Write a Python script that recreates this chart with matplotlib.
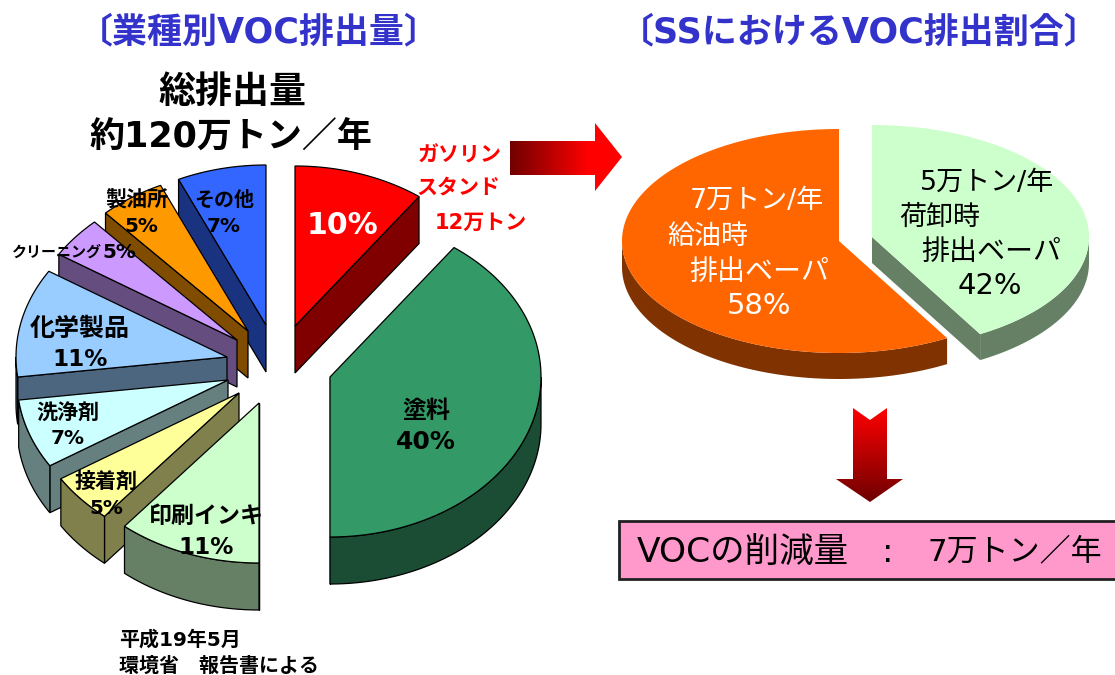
import numpy as np
import matplotlib
matplotlib.use('Agg')
import matplotlib.pyplot as plt
from matplotlib.colors import LinearSegmentedColormap, to_rgb
from matplotlib.patches import Polygon, Rectangle

plt.rcParams['font.family'] = ['DejaVu Sans', 'Noto Sans CJK JP']

# left pie, clockwise from the top
left_names = ['ガソリンスタンド', '塗料', '印刷インキ', '接着剤', '洗浄剤', '化学製品', 'クリーニング', '製油所', 'その他']
left_values = [10, 40, 11, 5, 7, 11, 4.2, 5, 6.8]
left_colors = ['#FF0000', '#339966', '#CCFFCC', '#FFFF99', '#CCFFFF', '#99CCFF', '#CC99FF', '#FF9900', '#3366FF']

# right pie
right_names = ['荷卸時', '給油時']
right_values = [41.7, 58.3]
right_colors = ['#CCFFCC', '#FF6600']

# layout, in pixels: pie centre, radii, depth and how far each slice is pulled out
left_center = (280, 360)
left_r = (211, 160)
left_depth = 47
left_explode = [(15, -34), (50, 17), (-21, 43), (-41, 33), (-52, 20), (-53, -3), (-43, -20), (-32, -29), (-14, -35)]
right_center = (855, 239)
right_r = (217, 112)
right_depth = 26
right_explode = [(17, -2), (-16, 2)]


def arc(apex, r, a0, a1):
    t = np.radians(np.linspace(a0, a1, max(int(a1 - a0) * 2, 2)))
    return np.column_stack([apex[0] + r[0] * np.sin(t), apex[1] - r[1] * np.cos(t)])


def draw_slice(ax, apex, r, depth, a0, a1, color, edge, lw, z):
    dark = tuple(c * 0.5 for c in to_rgb(color))
    down = np.array([0, depth])
    top_arc = arc(apex, r, a0, a1)
    # walls facing the viewer
    if 180 <= a0 < 360:
        p = arc(apex, r, a0, a0 + 0.01)[0]
        ax.add_patch(Polygon([apex, p, p + down, np.array(apex) + down], fc=dark, ec=edge, lw=lw, zorder=z))
    if 0 < a1 <= 180:
        p = arc(apex, r, a1, a1 + 0.01)[0]
        ax.add_patch(Polygon([apex, p, p + down, np.array(apex) + down], fc=dark, ec=edge, lw=lw, zorder=z))
    lo, hi = max(a0, 90), min(a1, 270)
    if lo < hi:
        rim = arc(apex, r, lo, hi)
        ax.add_patch(Polygon(np.vstack([rim, (rim + down)[::-1]]), fc=dark, ec=edge, lw=lw, zorder=z))
    ax.add_patch(Polygon(np.vstack([[apex], top_arc]), fc=color, ec=edge, lw=lw, zorder=z + 0.1))


def draw_pie(ax, values, colors, center, r, depth, explode, edge, lw, order):
    angles = np.cumsum([0] + list(values)) * 360.0 / sum(values)
    for z, i in enumerate(order):
        apex = (center[0] + explode[i][0], center[1] + explode[i][1])
        draw_slice(ax, apex, r, depth, angles[i], angles[i + 1], colors[i], edge, lw, 2 + z)


def gradient_arrow(ax, points, colors, horizontal):
    xs = [p[0] for p in points]
    ys = [p[1] for p in points]
    cmap = LinearSegmentedColormap.from_list('arrow', colors)
    grad = np.linspace(0, 1, 256)
    grad = grad.reshape(1, -1) if horizontal else grad.reshape(-1, 1)
    im = ax.imshow(grad, cmap=cmap, extent=(min(xs), max(xs), max(ys), min(ys)), aspect='auto', zorder=20)
    im.set_clip_path(Polygon(points, transform=ax.transData))


fig = plt.figure(figsize=(11.15, 6.75), dpi=100)
ax = fig.add_axes([0, 0, 1, 1])

draw_pie(ax, left_values, left_colors, left_center, left_r, left_depth, left_explode, 'black', 0.9,
         [0, 1, 8, 7, 6, 5, 4, 3, 2])
draw_pie(ax, right_values, right_colors, right_center, right_r, right_depth, right_explode, 'none', 0, [1, 0])

gradient_arrow(ax, [(510, 141), (595, 141), (595, 123), (622, 157), (595, 191), (595, 175), (510, 175)],
               [(0, '#700000'), (0.7, '#FF0000'), (1, '#FF0000')], True)
gradient_arrow(ax, [(853, 408), (870, 420), (887, 408), (887, 479), (903, 479), (870, 502), (836, 479), (853, 479)],
               ['#FF0000', '#6E0000'], False)

ax.add_patch(Rectangle((619, 521), 520, 58, fc='#FF99CC', ec='#202020', lw=2, zorder=1))

ax.set_xlim(0, 1115)
ax.set_ylim(675, 0)
ax.axis('off')


def label(x, y, s, px, color='black', weight='bold', ha='center'):
    ax.text(x, y + 2, s, fontsize=px * 0.72, color=color, weight=weight, ha=ha, va='center', zorder=30)


# titles
label(259, 30, '〔業種別VOC排出量〕', 35, '#3333CC')
label(859, 30, '〔SSにおけるVOC排出割合〕', 35, '#3333CC')
label(232, 91, '総排出量', 37)
label(231, 136, '約120万トン／年', 35)

# left pie labels
label(460, 154, 'ガソリン', 21, '#FF0000')
label(458, 186, 'スタンド', 21, '#FF0000')
label(481, 221, '12万トン', 21, '#FF0000')
label(343, 223, '10%', 30, 'white')
label(426, 409, '塗料', 24)
label(426, 440, '40%', 25)
label(206, 514, '印刷インキ', 23)
label(206, 545, '11%', 23)
label(106, 480, '接着剤', 21)
label(106, 506, '5%', 20)
label(68, 412, '洗浄剤', 21)
label(68, 436, '7%', 20)
label(80, 327, '化学製品', 25)
label(80, 357, '11%', 23)
label(12, 250, 'クリーニング', 15, ha='left')
label(119, 250, '5%', 20)
label(137, 198, '製油所', 21)
label(141, 225, '5%', 20)
label(224, 198, 'その他', 20)
label(224, 225, '7%', 20)
label(119, 638, '平成19年5月', 20, ha='left')
label(119, 664, '環境省　報告書による', 20, ha='left')

# right pie labels
label(690, 199, '7万トン/年', 27, 'white', 'normal', 'left')
label(667, 235, '給油時', 27, 'white', 'normal', 'left')
label(689, 270, '排出ベーパ', 28, 'white', 'normal', 'left')
label(759, 304, '58%', 29, 'white', 'normal')
label(920, 181, '5万トン/年', 27, 'black', 'normal', 'left')
label(899, 216, '荷卸時', 27, 'black', 'normal', 'left')
label(921, 250, '排出ベーパ', 28, 'black', 'normal', 'left')
label(990, 284, '42%', 29, 'black', 'normal')

label(637, 550, 'VOCの削減量', 34.5, 'black', 'normal', 'left')
label(888, 550, ':', 34, 'black', 'normal')
label(928, 550, '7万トン／年', 31, 'black', 'normal', 'left')

fig.savefig('out.png', dpi=100)
